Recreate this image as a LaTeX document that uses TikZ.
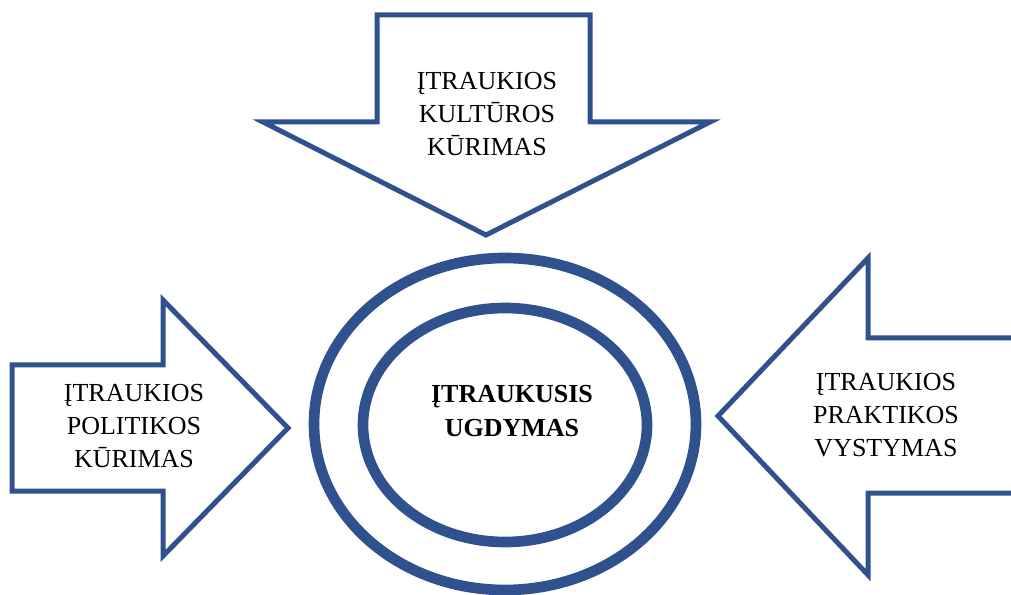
\documentclass[tikz,border=0pt]{standalone}
\usepackage{fontspec}
\setmainfont{Liberation Serif}
\definecolor{wordblue}{RGB}{47,82,143}
\begin{document}
\begin{tikzpicture}[x=0.75pt,y=-0.75pt,
  arrowshape/.style={draw=wordblue,line width=3.75pt,line join=miter,fill=white},
  ring/.style={draw=wordblue,line width=8pt},
  lbl/.style={align=center,font=\fontsize{19.5}{25}\selectfont,inner sep=0pt},
  clbl/.style={align=center,font=\fontsize{19.5}{25}\selectfont\bfseries,inner sep=0pt}]
\useasboundingbox (0,0) rectangle (1011,595);
% top arrow
\draw[arrowshape] (377,15) -- (590,15) -- (590,122) -- (710,122) -- (486,235) -- (263,122) -- (377,122) -- cycle;
% left arrow
\draw[arrowshape] (12,365) -- (163,365) -- (163,300) -- (288,428) -- (163,556) -- (163,491) -- (12,491) -- cycle;
% right arrow (shaft runs off the right edge)
\begin{scope}
\clip (0,0) rectangle (1011,595);
\fill[white] (1030,338) -- (868,338) -- (868,258) -- (718,416) -- (868,575) -- (868,493) -- (1030,493) -- cycle;
\draw[draw=wordblue,line width=3.75pt,line join=miter] (1030,338) -- (868,338) -- (868,258) -- (718,416) -- (868,575) -- (868,493) -- (1030,493);
\end{scope}
% rings
\draw[ring] (505,424) ellipse [x radius=191, y radius=166];
\draw[ring] (505,425) ellipse [x radius=142, y radius=117];
% labels
\node[lbl] (top) at (487,114) {ĮTRAUKIOS\\KULTŪROS\\KŪRIMAS};
\node[lbl] (left) at (134,426) {ĮTRAUKIOS\\POLITIKOS\\KŪRIMAS};
\node[lbl] (right) at (886,415) {ĮTRAUKIOS\\PRAKTIKOS\\VYSTYMAS};
\node[clbl] (center) at (512,411) {ĮTRAUKUSIS\\UGDYMAS};
\end{tikzpicture}
\end{document}
